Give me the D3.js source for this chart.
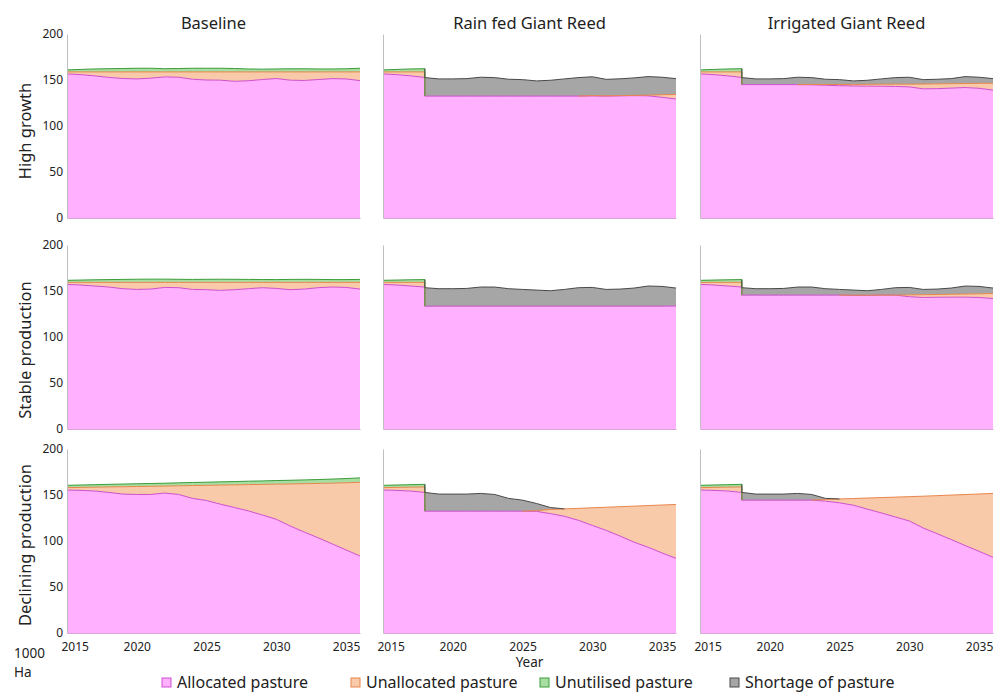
<!DOCTYPE html>
<html>
<head>
<meta charset="utf-8">
<script src="https://cdn.jsdelivr.net/npm/d3@7"></script>
<style>
  body { margin: 0; background: #fff; }
  text { font-family: "Noto Sans", sans-serif; fill: #222; }
</style>
</head>
<body>
<div id="chart"></div>
<script>
// 2018 appears twice: value before and after the Giant Reed land switch
const years = [2015, 2016, 2017, 2018, 2018, 2019, 2020, 2021, 2022, 2023, 2024, 2025,
  2026, 2027, 2028, 2029, 2030, 2031, 2032, 2033, 2034, 2035, 2036];

const rowNames = ["High growth", "Stable production", "Declining production"];
const colNames = ["Baseline", "Rain fed Giant Reed", "Irrigated Giant Reed"];
const seriesNames = ["Allocated pasture", "Unallocated pasture", "Unutilised pasture", "Shortage of pasture"];
const yTicks = [0, 50, 100, 150, 200];
const xTicks = [2015, 2020, 2025, 2030, 2035];

const zeros = [0, 0, 0, 0, 0, 0, 0, 0, 0, 0, 0, 0, 0, 0, 0, 0, 0, 0, 0, 0, 0, 0, 0];

// High growth
const hgBaseAlloc = [156.6, 155.8, 154.5, 152.8, 152.8, 151.6, 151.2, 152, 153.4, 153, 150.8, 150,
  149.8, 148.6, 149.2, 150.5, 151.6, 149.8, 149.5, 150.5, 151.5, 151.2, 149.3];
const hgBaseUnalloc = [2.2, 3, 4.3, 6, 6, 7.2, 7.6, 6.8, 5.4, 5.8, 8, 8.8,
  9, 10.2, 9.6, 8.3, 7.2, 9, 9.3, 8.3, 7.3, 7.6, 9.5];
const hgBaseUnutil = [2.2, 2.7, 3.2, 3.5, 3.5, 3.7, 4, 4, 3.5, 3.7, 4, 4,
  4, 3.7, 3.2, 3, 3.2, 3.4, 3.4, 3.2, 3.2, 3.4, 4];

const hgRainAlloc = [156.6, 155.8, 154.5, 152.8, 132.5, 132.5, 132.5, 132.5, 132.5, 132.5, 132.5, 132.5,
  132.5, 132.5, 132.5, 132.5, 132.7, 132.5, 132.8, 133, 132.8, 131.2, 129.3];
const hgRainUnalloc = [2.2, 3, 4.3, 6, 0, 0, 0, 0, 0, 0, 0, 0,
  0, 0, 0, 0, 0.3, 0.3, 0.2, 0.3, 0.7, 2.8, 5];
const hgRainUnutil = [2.2, 2.7, 3.2, 3.5, 0, 0, 0, 0, 0, 0, 0, 0, 0, 0, 0, 0, 0, 0, 0, 0, 0, 0, 0];
const hgRainShort = [0, 0, 0, 0, 20.1, 18.7, 18.7, 19, 20.5, 20.1, 18.3, 17.9,
  16.5, 17.2, 18.7, 20.1, 20.5, 17.9, 18.3, 19, 20.2, 19, 17.2];

const hgIrrAlloc = [156.6, 155.8, 154.5, 152.8, 145, 145, 145, 145, 145, 144.8, 144.3, 143.8,
  143.5, 143.3, 143.2, 143, 142.5, 140.4, 140.6, 141.2, 141.8, 141, 139];
const hgIrrUnalloc = [2.2, 3, 4.3, 6, 0, 0, 0, 0, 0, 0.3, 0.8, 1.3,
  1.7, 2, 2.2, 2.5, 3, 5.2, 5.2, 4.8, 4.4, 5.4, 7.5];
const hgIrrUnutil = [2.2, 2.7, 3.2, 3.5, 0, 0, 0, 0, 0, 0, 0, 0, 0, 0, 0, 0, 0, 0, 0, 0, 0, 0, 0];
const hgIrrShort = [0, 0, 0, 0, 7.6, 6.2, 6.2, 6.5, 8, 7.5, 5.7, 5.3,
  3.8, 4.4, 5.8, 7.1, 7.5, 4.8, 5, 5.5, 7.5, 6.6, 5];

// Stable production
const spBaseAlloc = [157.2, 156.5, 155.4, 154.3, 154.3, 152.5, 151.7, 152.1, 153.9, 153.6, 151.7, 151.4,
  150.7, 151.4, 152.5, 153.6, 152.8, 151.4, 152.1, 153.6, 154.3, 153.9, 152.1];
const spBaseUnalloc = [2.2, 2.9, 4, 5.1, 5.1, 6.9, 7.7, 7.3, 5.5, 5.8, 7.7, 8,
  8.7, 8, 6.9, 5.8, 6.6, 8, 7.3, 5.8, 5.1, 5.5, 7.3];
const spBaseUnutil = [2.2, 2.5, 2.8, 3, 3, 3.2, 3.4, 3.5, 3.5, 3.3, 3.2, 3.3,
  3.4, 3.3, 3.2, 3.1, 3, 3.2, 3.3, 3.2, 3, 3, 3.2];

const spRainAlloc = [157.2, 156.5, 155.4, 154.3, 133.5, 133.5, 133.5, 133.5, 133.5, 133.5, 133.5, 133.5,
  133.5, 133.5, 133.5, 133.5, 133.5, 133.5, 133.5, 133.5, 133.5, 133.5, 133.7];
const spRainUnalloc = [2.2, 2.9, 4, 5.1, 0, 0, 0, 0, 0, 0, 0, 0, 0, 0, 0, 0, 0, 0, 0, 0, 0, 0, 0];
const spRainUnutil = [2.2, 2.5, 2.8, 3, 0, 0, 0, 0, 0, 0, 0, 0, 0, 0, 0, 0, 0, 0, 0, 0, 0, 0, 0];
const spRainShort = [0, 0, 0, 0, 20.1, 19, 19, 19.3, 20.8, 20.8, 19, 18.2,
  17.5, 16.8, 18.2, 20.1, 20.4, 18.2, 18.6, 19.7, 21.9, 21.5, 19.5];

const spIrrAlloc = [157.2, 156.5, 155.4, 154.3, 145.5, 145.5, 145.5, 145.5, 145.5, 145.5, 145.5, 145.5,
  145.2, 145.2, 145.5, 145.5, 143.8, 143, 143.2, 143.3, 143.3, 143, 141.8];
const spIrrUnalloc = [2.2, 2.9, 4, 5.1, 0, 0, 0, 0, 0, 0, 0, 0,
  0.3, 0.3, 0, 0, 2, 3, 3, 3.2, 3.4, 3.9, 5.5];
const spIrrUnutil = [2.2, 2.5, 2.8, 3, 0, 0, 0, 0, 0, 0, 0, 0, 0, 0, 0, 0, 0, 0, 0, 0, 0, 0, 0];
const spIrrShort = [0, 0, 0, 0, 8.1, 7, 7, 7.3, 8.8, 8.8, 7, 6.2,
  5.5, 4.8, 6.2, 8.1, 8.1, 5.7, 5.9, 6.7, 8.7, 8.1, 5.9];

// Declining production
const dpBaseAlloc = [155.4, 155, 154.3, 152.8, 152.8, 151, 150.6, 150.6, 152.1, 150.6, 146.3, 144,
  140, 136.4, 132.7, 128.3, 123.6, 116.3, 109.7, 103.5, 96.9, 90.3, 83.7];
const dpBaseUnalloc = [2.6, 3.3, 4.2, 6, 6, 8, 8.6, 8.9, 7.6, 9.4, 14, 16.5,
  20.8, 24.6, 28.6, 33.2, 38.2, 45.7, 52.6, 59.1, 66, 73, 80.1];
const dpBaseUnutil = [2.5, 2.6, 2.7, 2.8, 2.8, 2.9, 3, 3, 3.1, 3.2, 3.3, 3.4,
  3.5, 3.6, 3.7, 3.8, 3.9, 4, 4.1, 4.2, 4.4, 4.6, 4.8];

const dpRainAlloc = [155.4, 155, 154.3, 152.8, 132.4, 132.4, 132.4, 132.4, 132.4, 132.4, 132.4, 132.4,
  132.2, 129.8, 126.9, 122.5, 117, 111.5, 105.3, 98.7, 93.2, 87, 81.2];
const dpRainUnalloc = [2.6, 3.3, 4.2, 6, 0, 0, 0, 0, 0, 0, 0, 0,
  0.8, 4.5, 8, 13, 19.1, 25.2, 32, 39.2, 45.3, 52.1, 58.5];
const dpRainUnutil = [2.5, 2.6, 2.7, 2.8, 0, 0, 0, 0, 0, 0, 0, 0, 0, 0, 0, 0, 0, 0, 0, 0, 0, 0, 0];
const dpRainShort = [0, 0, 0, 0, 20.4, 18.6, 18.6, 18.6, 19.3, 18.2, 13.9, 12,
  7.8, 2.1, 0, 0, 0, 0, 0, 0, 0, 0, 0];

const dpIrrAlloc = [155.4, 155, 154.3, 152.8, 144.4, 144.4, 144.4, 144.4, 144.4, 144.4, 143.3, 141.5,
  138.9, 134.6, 130.5, 126.1, 121.8, 114.1, 107.9, 101.6, 95.1, 88.8, 82.3];
const dpIrrUnalloc = [2.6, 3.3, 4.2, 6, 0, 0, 0, 0, 0, 0, 1.9, 4.2,
  7.3, 12.1, 16.7, 21.6, 26.4, 34.6, 41.4, 48.3, 55.4, 62.3, 69.4];
const dpIrrUnutil = [2.5, 2.6, 2.7, 2.8, 0, 0, 0, 0, 0, 0, 0, 0, 0, 0, 0, 0, 0, 0, 0, 0, 0, 0, 0];
const dpIrrShort = [0, 0, 0, 0, 8.4, 6.6, 6.6, 6.6, 7.3, 6.2, 1.1, 0,
  0, 0, 0, 0, 0, 0, 0, 0, 0, 0, 0];

const panels = [
  { row: 0, col: 0, series: [hgBaseAlloc, hgBaseUnalloc, hgBaseUnutil, zeros] },
  { row: 0, col: 1, series: [hgRainAlloc, hgRainUnalloc, hgRainUnutil, hgRainShort] },
  { row: 0, col: 2, series: [hgIrrAlloc, hgIrrUnalloc, hgIrrUnutil, hgIrrShort] },
  { row: 1, col: 0, series: [spBaseAlloc, spBaseUnalloc, spBaseUnutil, zeros] },
  { row: 1, col: 1, series: [spRainAlloc, spRainUnalloc, spRainUnutil, spRainShort] },
  { row: 1, col: 2, series: [spIrrAlloc, spIrrUnalloc, spIrrUnutil, spIrrShort] },
  { row: 2, col: 0, series: [dpBaseAlloc, dpBaseUnalloc, dpBaseUnutil, zeros] },
  { row: 2, col: 1, series: [dpRainAlloc, dpRainUnalloc, dpRainUnutil, dpRainShort] },
  { row: 2, col: 2, series: [dpIrrAlloc, dpIrrUnalloc, dpIrrUnutil, dpIrrShort] }
];

const keys = ["alloc", "unalloc", "unutil", "short"];
const fills = ["#ffb0ff", "#f8caa9", "#a8dea2", "#a6a6a6"];
const strokes = ["#cf4fcf", "#e8864c", "#3c9c3c", "#4a4a4a"];

const width = 996, height = 693;
const colLeft = [67, 383, 700], plotW = 293;
const rowTop = [34, 245, 449], plotH = 184;

const svg = d3.select("#chart").append("svg")
  .attr("width", width)
  .attr("height", height);

panels.forEach(p => {
  const x = d3.scaleLinear().domain([2015, 2036]).range([colLeft[p.col], colLeft[p.col] + plotW]);
  const y = d3.scaleLinear().domain([0, 200]).range([rowTop[p.row] + plotH, rowTop[p.row]]);

  const rows = years.map((yr, i) => {
    const r = { year: yr };
    keys.forEach((k, j) => r[k] = p.series[j][i]);
    return r;
  });
  const stacked = d3.stack().keys(keys)(rows);

  const g = svg.append("g");

  const area = d3.area()
    .x(d => x(d.data.year))
    .y0(d => y(d[0]))
    .y1(d => y(d[1]));

  g.selectAll("path.area")
    .data(stacked)
    .enter().append("path")
    .attr("class", "area")
    .attr("fill", (d, i) => fills[i])
    .attr("d", area);

  // top edge of each layer, only where that layer is present
  stacked.forEach((layer, j) => {
    const vals = p.series[j];
    const n = vals.length;
    const line = d3.line()
      .defined((d, i) => vals[i] > 0 || (i > 0 && vals[i - 1] > 0) || (i < n - 1 && vals[i + 1] > 0))
      .x(d => x(d.data.year))
      .y(d => y(d[1]));
    g.append("path")
      .attr("fill", "none")
      .attr("stroke", strokes[j])
      .attr("stroke-width", 1)
      .attr("d", line(layer));
  });

  // bottom edge
  const xAxis = d3.axisBottom(x)
    .tickValues(xTicks)
    .tickFormat(p.row === 2 ? d3.format("d") : "")
    .tickSize(0)
    .tickPadding(9);
  const xg = g.append("g")
    .attr("transform", `translate(0,${rowTop[p.row] + plotH})`)
    .call(xAxis);
  xg.select(".domain").attr("stroke", "#d9a6d9");
  xg.selectAll("text")
    .attr("font-family", "Noto Sans, sans-serif")
    .attr("font-size", "12px")
    .attr("fill", "#333");
  xg.selectAll(".tick").filter(d => d === 2015).select("text")
    .attr("text-anchor", "start")
    .attr("dx", -6);

  const yAxis = d3.axisLeft(y)
    .tickValues(yTicks)
    .tickFormat(p.col === 0 ? d3.format("d") : "")
    .tickSize(0)
    .tickPadding(4);
  const yg = g.append("g")
    .attr("transform", `translate(${colLeft[p.col]},0)`)
    .call(yAxis);
  yg.select(".domain").attr("stroke", "#bfbfbf");
  yg.selectAll("text")
    .attr("font-family", "Noto Sans, sans-serif")
    .attr("font-size", "12px")
    .attr("fill", "#333");
});

// column titles
svg.selectAll("text.colTitle")
  .data(colNames)
  .enter().append("text")
  .attr("class", "colTitle")
  .attr("x", (d, i) => colLeft[i] + plotW / 2)
  .attr("y", 29)
  .attr("text-anchor", "middle")
  .attr("font-size", "16.5px")
  .text(d => d);

// row titles
const rowLabelCenter = [131, 350, 545];
svg.selectAll("text.rowTitle")
  .data(rowNames)
  .enter().append("text")
  .attr("class", "rowTitle")
  .attr("transform", (d, i) => `translate(31,${rowLabelCenter[i]}) rotate(-90)`)
  .attr("text-anchor", "middle")
  .attr("font-size", "16.5px")
  .text(d => d);

svg.append("text")
  .attr("x", colLeft[1] + plotW / 2)
  .attr("y", 667)
  .attr("text-anchor", "middle")
  .attr("font-size", "13.5px")
  .text("Year");

svg.append("text").attr("x", 14).attr("y", 658).attr("font-size", "13.5px").text("1000");
svg.append("text").attr("x", 14).attr("y", 677).attr("font-size", "13.5px").text("Ha");

// legend
const legendX = [177, 366, 555, 745];
const legend = svg.selectAll("g.legend")
  .data(seriesNames)
  .enter().append("g")
  .attr("class", "legend")
  .attr("transform", (d, i) => `translate(${legendX[i]},688)`);

legend.append("rect")
  .attr("x", -15)
  .attr("y", -10)
  .attr("width", 9)
  .attr("height", 9)
  .attr("fill", (d, i) => fills[i])
  .attr("stroke", (d, i) => strokes[i])
  .attr("stroke-width", 1);

legend.append("text")
  .attr("x", 0)
  .attr("y", 0)
  .attr("font-size", "16px")
  .text(d => d);
</script>
</body>
</html>
